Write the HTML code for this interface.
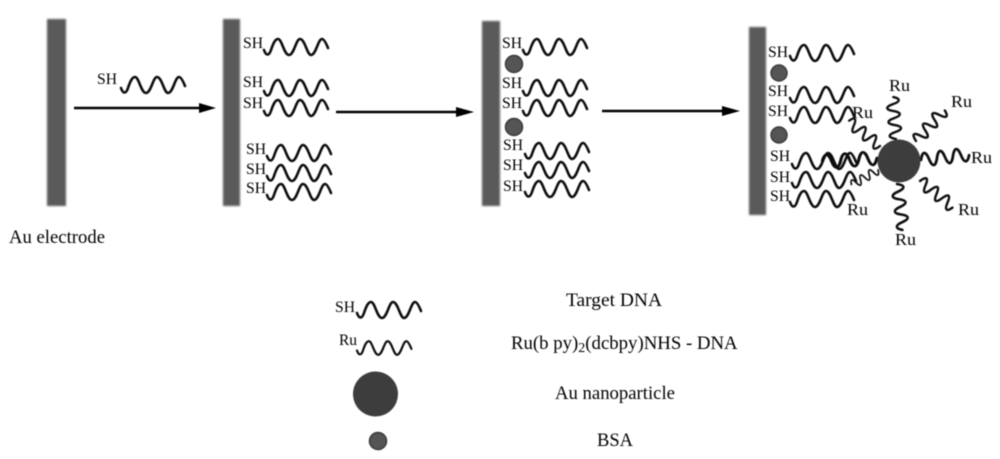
<!DOCTYPE html>
<html>
<head>
<meta charset="utf-8">
<style>
html,body{margin:0;padding:0;background:#fff;width:1000px;height:459px;overflow:hidden}
svg{display:block}
text{font-family:"Liberation Serif",serif;fill:#000}
</style>
</head>
<body>
<svg width="1000" height="459" viewBox="0 0 1000 459" xmlns="http://www.w3.org/2000/svg">
<defs>
<filter id="b" x="-5%" y="-5%" width="110%" height="110%"><feGaussianBlur stdDeviation="0.4"/></filter>
<filter id="bb" x="-30%" y="-5%" width="160%" height="110%"><feGaussianBlur stdDeviation="1.1"/></filter>
<path id="w" fill="none" stroke="#111" stroke-width="2.6" stroke-linecap="round" d="M0,3 C2,9 5,9 7,3 C9,-3 11,-8 14,-8 C18,-8 20,8 25,8 C30,8 32,-8 36,-8 C41,-8 43,8 47,8 C52,8 54,-8 58,-8 C60,-8 62,-4 64,1"/>
<path id="r" fill="none" stroke="#111" stroke-width="2.4" stroke-linecap="round" d="M0,0 C2,-8 5,-8 7,0 C9,8 12,8 14,0 C16,-8 19,-8 21,0 C23,8 26,8 28,0 C30,-8 33,-8 35,0 C37,8 40,8 42,1"/>
</defs>
<rect width="1000" height="459" fill="#fff"/>
<g filter="url(#bb)" fill="#5a5a5a">
<rect x="47" y="19" width="19" height="187"/>
<rect x="223" y="19" width="17" height="187"/>
<rect x="482" y="21" width="18" height="185"/>
<rect x="749" y="27" width="17" height="188"/>
</g>
<g filter="url(#b)">
<g stroke="#000" stroke-width="2.4" fill="#000">
<line x1="74" y1="108" x2="202" y2="108"/>
<polygon points="199,103 216,108 199,113" stroke="none"/>
<line x1="336" y1="112" x2="460" y2="112"/>
<polygon points="456,107 474,112 456,117" stroke="none"/>
<line x1="602" y1="111" x2="726" y2="111"/>
<polygon points="722,106 740,111 722,116" stroke="none"/>
</g>
<use href="#w" x="121" y="85"/>
<use href="#w" x="264" y="47"/>
<use href="#w" x="264" y="88"/>
<use href="#w" x="264" y="108"/>
<use href="#w" x="267" y="153"/>
<use href="#w" x="267" y="173"/>
<use href="#w" x="267" y="192"/>
<use href="#w" x="523" y="47"/>
<use href="#w" x="523" y="88"/>
<use href="#w" x="523" y="108"/>
<use href="#w" x="525" y="151"/>
<use href="#w" x="525" y="170"/>
<use href="#w" x="525" y="189"/>
<use href="#w" x="790" y="53"/>
<use href="#w" x="790" y="95"/>
<use href="#w" x="790" y="115"/>
<use href="#w" x="792" y="161"/>
<use href="#w" x="792" y="180"/>
<use href="#w" x="790" y="199"/>
<use href="#r" transform="translate(896,139) rotate(-95)"/>
<use href="#r" transform="translate(916,141) rotate(-48)"/>
<use href="#r" transform="translate(921,160) rotate(-7) scale(1.15,1.1)"/>
<use href="#r" transform="translate(920,181) rotate(38)"/>
<use href="#r" transform="translate(897,184) rotate(82) scale(1.1,1)"/>
<use href="#r" transform="translate(878,170) rotate(150) scale(.72)"/>
<use href="#r" transform="translate(877,158) rotate(176) scale(1.3,1.1)"/>
<use href="#r" transform="translate(880,146) rotate(-142) scale(.95)"/>
<circle cx="899" cy="161" r="21.500" fill="#3e3e3e"/>
<g fill="#555" stroke="#3a3a3a" stroke-width="1.5">
<circle cx="514" cy="64" r="8.5"/>
<circle cx="514" cy="127" r="8.5"/>
<circle cx="779" cy="73" r="8"/>
<circle cx="779" cy="135" r="8"/>
<circle cx="378" cy="441" r="8.5"/>
</g>
<use href="#w" x="357" y="310"/>
<use href="#w" transform="translate(357,348) scale(.85,.85)"/>
<circle cx="375.500" cy="394" r="22.5" fill="#3e3e3e"/>
</g>
<g filter="url(#b)" font-size="16">
<text x="97" y="84" textLength="20" lengthAdjust="spacingAndGlyphs">SH</text>
<text x="243" y="48" textLength="20" lengthAdjust="spacingAndGlyphs">SH</text>
<text x="243" y="87" textLength="20" lengthAdjust="spacingAndGlyphs">SH</text>
<text x="243" y="108" textLength="20" lengthAdjust="spacingAndGlyphs">SH</text>
<text x="246" y="154" textLength="20" lengthAdjust="spacingAndGlyphs">SH</text>
<text x="246" y="174" textLength="20" lengthAdjust="spacingAndGlyphs">SH</text>
<text x="246" y="193" textLength="20" lengthAdjust="spacingAndGlyphs">SH</text>
<text x="502" y="48" textLength="20" lengthAdjust="spacingAndGlyphs">SH</text>
<text x="502" y="88" textLength="20" lengthAdjust="spacingAndGlyphs">SH</text>
<text x="502" y="108" textLength="20" lengthAdjust="spacingAndGlyphs">SH</text>
<text x="503" y="150" textLength="20" lengthAdjust="spacingAndGlyphs">SH</text>
<text x="503" y="170" textLength="20" lengthAdjust="spacingAndGlyphs">SH</text>
<text x="503" y="191" textLength="20" lengthAdjust="spacingAndGlyphs">SH</text>
<text x="768" y="57" textLength="20" lengthAdjust="spacingAndGlyphs">SH</text>
<text x="768" y="96" textLength="20" lengthAdjust="spacingAndGlyphs">SH</text>
<text x="768" y="116" textLength="20" lengthAdjust="spacingAndGlyphs">SH</text>
<text x="770" y="161" textLength="20" lengthAdjust="spacingAndGlyphs">SH</text>
<text x="770" y="182" textLength="20" lengthAdjust="spacingAndGlyphs">SH</text>
<text x="770" y="201" textLength="20" lengthAdjust="spacingAndGlyphs">SH</text>
<text x="335" y="312" textLength="20" lengthAdjust="spacingAndGlyphs">SH</text>
<text x="339" y="345" textLength="18" lengthAdjust="spacingAndGlyphs">Ru</text>
</g>
<g filter="url(#b)" font-size="17">
<text x="889" y="91" textLength="21" lengthAdjust="spacingAndGlyphs">Ru</text>
<text x="951" y="107" textLength="21" lengthAdjust="spacingAndGlyphs">Ru</text>
<text x="971" y="163" textLength="21" lengthAdjust="spacingAndGlyphs">Ru</text>
<text x="958" y="215" textLength="21" lengthAdjust="spacingAndGlyphs">Ru</text>
<text x="895" y="245" textLength="21" lengthAdjust="spacingAndGlyphs">Ru</text>
<text x="847" y="215" textLength="21" lengthAdjust="spacingAndGlyphs">Ru</text>
<text x="852" y="118" textLength="21" lengthAdjust="spacingAndGlyphs">Ru</text>
</g>
<g filter="url(#b)" font-size="18.500">
<text x="9" y="243" textLength="96" lengthAdjust="spacingAndGlyphs">Au electrode</text>
<text x="566" y="306" textLength="96" lengthAdjust="spacingAndGlyphs">Target DNA</text>
<text x="511" y="349" font-size="18.800">Ru(b py)<tspan font-size="14" dy="3">2</tspan><tspan dy="-3">(dcbpy)NHS - DNA</tspan></text>
<text x="555" y="399" textLength="120" lengthAdjust="spacingAndGlyphs">Au nanoparticle</text>
<text x="597" y="446" textLength="36" lengthAdjust="spacingAndGlyphs">BSA</text>
</g>
</svg>
</body>
</html>
